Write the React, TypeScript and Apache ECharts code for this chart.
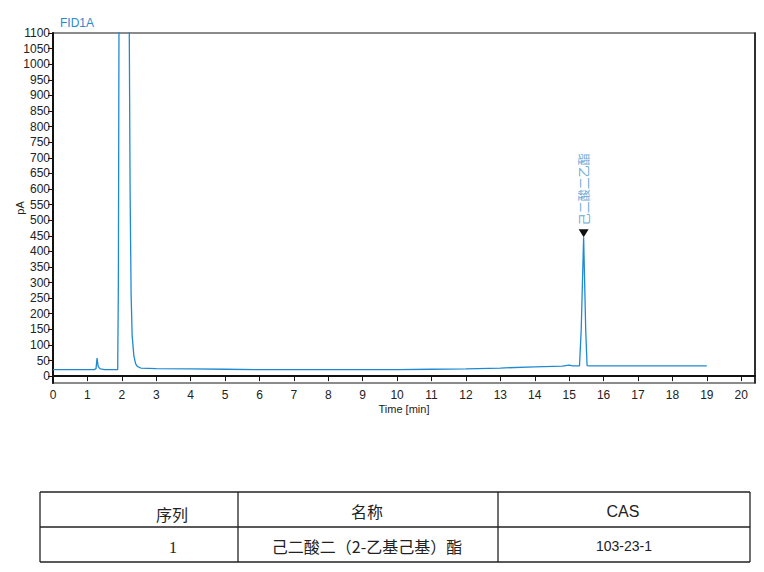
import React, { useEffect, useRef } from "react";
import * as echarts from "echarts";

const chartTitle = "FID1A";
const peakLabel = "己二酸二乙酯";
const peakTime = 15.42;
const peakHeight = 445;

// [time (min), signal (pA)]
const signal: [number, number][] = [
  [0, 21], [0.5, 21], [1.0, 21], [1.2, 21], [1.25, 24], [1.28, 58], [1.31, 32],
  [1.34, 27], [1.38, 23], [1.5, 21], [1.7, 21], [1.88, 21], [1.9, 300],
  [1.92, 1250], [2.21, 1250], [2.24, 600], [2.27, 260], [2.3, 130], [2.35, 65],
  [2.4, 40], [2.45, 31], [2.55, 26], [3, 24], [4, 23], [5, 22], [6, 21],
  [7, 21], [8, 21], [9, 21], [10, 21], [11, 22], [12, 23], [13, 26], [14, 30],
  [14.8, 32], [15.0, 35], [15.1, 33], [15.3, 33], [15.35, 150], [15.42, 445],
  [15.48, 150], [15.52, 34], [15.6, 33], [16, 33], [17, 33], [18, 33], [19, 33],
];

const yTicks = [0, 50, 100, 150, 200, 250, 300, 350, 400, 450, 500, 550, 600, 650,
  700, 750, 800, 850, 900, 950, 1000, 1050, 1100];
const xTicks = [0, 1, 2, 3, 4, 5, 6, 7, 8, 9, 10, 11, 12, 13, 14, 15, 16, 17, 18, 19, 20];

const tableHeader = ["序列", "名称", "CAS"];
const tableRow = ["1", "己二酸二（2-乙基己基）酯", "103-23-1"];

export default function App() {
  const ref = useRef<HTMLDivElement>(null);
  useEffect(() => {
    if (!ref.current) return;
    const chart = echarts.init(ref.current, null, { renderer: "svg" });
    const cjk = '"Noto Sans CJK SC", sans-serif';
    const sans = '"Liberation Sans", Arial, sans-serif';
    const tableTop = 492, tableMid = 527, tableBot = 562;
    const cols = [40, 238, 498, 750];
    const lineStyle = { stroke: "#222", lineWidth: 1.3 };
    const graphics: any[] = [];
    [tableTop, tableMid, tableBot].forEach((y) =>
      graphics.push({ type: "line", shape: { x1: cols[0], y1: y, x2: cols[3], y2: y }, style: lineStyle })
    );
    cols.forEach((x) =>
      graphics.push({ type: "line", shape: { x1: x, y1: tableTop, x2: x, y2: tableBot }, style: lineStyle })
    );
    const headerPos = [[172, 514], [367, 511], [623, 511]];
    const headerFonts = [cjk, cjk, '"Liberation Sans Narrow", "Liberation Sans", sans-serif'];
    tableHeader.forEach((t, i) =>
      graphics.push({
        type: "text",
        x: headerPos[i][0], y: headerPos[i][1],
        style: { text: t, fill: "#222", font: `16px ${headerFonts[i]}`, align: "center", verticalAlign: "middle" },
      })
    );
    const rowPos = [[173, 547], [367, 546], [624, 546]];
    const rowFonts = ['"Liberation Serif", serif', cjk, sans];
    const rowSizes = [16, 16, 14];
    tableRow.forEach((t, i) =>
      graphics.push({
        type: "text",
        x: rowPos[i][0], y: rowPos[i][1],
        style: { text: t, fill: "#222", font: `${rowSizes[i]}px ${rowFonts[i]}`, align: "center", verticalAlign: "middle" },
      })
    );

    chart.setOption({
      animation: false,
      backgroundColor: "#fff",
      title: {
        text: chartTitle,
        left: 55,
        top: 12,
        textStyle: { color: "#2a8ad0", fontSize: 12, fontWeight: "normal", fontFamily: sans },
      },
      grid: {
        left: 53, top: 33, right: 9, bottom: 189,
        containLabel: false,
        outerBoundsMode: "none",
        show: true, borderColor: "#666", borderWidth: 1.5,
      },
      xAxis: {
        type: "value",
        min: 0,
        max: 20.4,
        name: "Time [min]",
        nameLocation: "middle",
        nameGap: 20,
        nameMoveOverlap: false,
        nameTextStyle: { color: "#222", fontSize: 11, fontFamily: sans },
        axisLine: { show: true, lineStyle: { color: "#111", width: 2 } },
        axisTick: { show: true, length: 5, lineStyle: { color: "#111" }, customValues: xTicks },
        axisLabel: { color: "#222", fontSize: 12, margin: 6, customValues: xTicks, fontFamily: sans, formatter: (v: number) => String(v) },
        splitLine: { show: false },
      },
      yAxis: [
        {
          type: "value",
          min: -22,
          max: 1100,
          name: "pA",
          nameLocation: "middle",
          nameGap: 28,
          nameMoveOverlap: false,
          nameTextStyle: { color: "#222", fontSize: 11, fontFamily: sans },
          axisLine: { show: true, lineStyle: { color: "#111", width: 2 } },
          axisTick: { show: true, length: 5, lineStyle: { color: "#111" }, customValues: yTicks },
          axisLabel: { color: "#222", fontSize: 12, margin: 3, customValues: yTicks, fontFamily: sans, formatter: (v: number) => String(v) },
          splitLine: { show: false },
        },
        {
          type: "value",
          position: "right",
          min: -22,
          max: 1100,
          axisLine: { show: true, lineStyle: { color: "#111", width: 1.5 } },
          axisTick: { show: false },
          axisLabel: { show: false },
          splitLine: { show: false },
        },
      ],
      series: [
        {
          type: "line",
          data: signal,
          showSymbol: false,
          symbol: "none",
          clip: true,
          lineStyle: { color: "#1f8ad2", width: 1.3 },
          markPoint: {
            symbol: "triangle",
            symbolRotate: 180,
            symbolSize: [10, 8],
            symbolOffset: [0, -4],
            itemStyle: { color: "#111" },
            label: {
              show: true,
              formatter: peakLabel,
              position: "top",
              distance: 4,
              rotate: 90,
              align: "left",
              verticalAlign: "middle",
              color: "#6aaad8",
              fontSize: 12,
              fontFamily: cjk,
            },
            data: [{ coord: [peakTime, peakHeight] }],
          },
        },
      ],
      graphic: graphics,
    });
    return () => chart.dispose();
  }, []);
  return <div ref={ref} style={{ position: "fixed", left: 0, top: 0, width: 764, height: 572 }} />;
}
